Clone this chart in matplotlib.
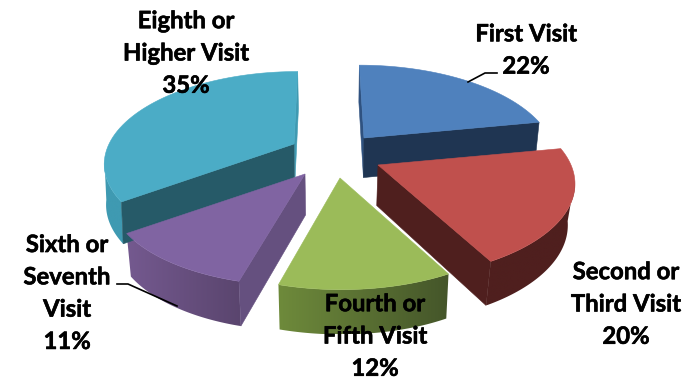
import numpy as np
import matplotlib
matplotlib.use("Agg")
import matplotlib.pyplot as plt
import matplotlib.patheffects as pe
from matplotlib.patches import Polygon
from matplotlib.colors import LinearSegmentedColormap

labels = ["First Visit\n22%", "Second or\nThird Visit\n20%", "Fourth or\nFifth Visit\n12%",
          "Sixth or\nSeventh\nVisit\n11%", "Eighth or\nHigher Visit\n35%"]
shares = [22, 20, 12, 11, 35]

top_colors = ["#4F81BD", "#C0504D", "#9BBB59", "#8064A2", "#4BACC6"]
edge_colors = ["#1F3552", "#4F1F1E", None, "#65507F", "#265A68"]
rim_left = [None, "#4F1F1E", "#6E8A3B", "#74598F", "#3F9AB2"]
rim_right = [None, "#4F1F1E", "#45562A", "#5A456E", "#3F9AB2"]

# tip of every exploded slice in pixels, plus its own shape tweaks
tips = [(364, 138), (378, 165), (340, 178), (305, 174), (294, 144)]
radii = [186, 193, 190, 190, 185]
mid_x = [336, 378, 336, 336, 316]
turn = [0, 0, 1, 0, 0]
rim_lean = [0.02, 0.03, 0.02, 0.02, 0.008]
label_pos = [(526, 50), (626, 304), (375, 336), (67, 293), (186, 53)]

TILT = 0.47
PERSP = 0.2
DEPTH = 40
MID_X = 336


def top_point(i, theta):
    # theta runs clockwise from twelve o'clock, in degrees
    t = np.radians(theta + turn[i])
    y = -np.cos(t)
    s = 1 / (1 - PERSP * y)
    tip = tips[i]
    return (tip[0] + radii[i] * np.sin(t) * s + (tip[0] - mid_x[i]) * (s - 1),
            tip[1] + radii[i] * TILT * y * s)


def drop(pt, lean=0.02):
    # same point on the underside of the slice
    y = np.clip((pt[1] - 150) / 130, -1, 1)
    return (pt[0] + (MID_X - pt[0]) * lean, pt[1] + DEPTH * (1 + 0.12 * y))


def side_wall(ax, a, b, color, lean=0.02):
    ax.add_patch(Polygon([a, b, drop(b, lean), drop(a, lean)], closed=True, fc=color, ec=color, lw=0.4))


def rim(ax, i, start, end):
    # outer wall of the slice, shaded from left to right
    upper = [top_point(i, a) for a in np.linspace(start, end, 60)]
    lower = [drop(p, rim_lean[i]) for p in upper]
    pts = np.array(upper + lower[::-1])
    shape = Polygon(pts, closed=True, fc="none", ec="none")
    ax.add_patch(shape)
    cmap = LinearSegmentedColormap.from_list("rim", [rim_left[i], rim_right[i]])
    extent = [pts[:, 0].min(), pts[:, 0].max(), pts[:, 1].max(), pts[:, 1].min()]
    im = ax.imshow(np.linspace(0, 1, 64).reshape(1, -1), cmap=cmap, extent=extent,
                   aspect="auto", interpolation="bilinear")
    im.set_clip_path(shape)


fig = plt.figure(figsize=(6.96, 3.79), dpi=100)
ax = fig.add_axes([0, 0, 1, 1])
ax.axis("off")

bounds = np.concatenate([[0], np.cumsum(shares)]) * 3.6
slices = [(i, bounds[i], bounds[i + 1]) for i in range(5)]

# back to front; rims stop at the silhouette so the wall does not fold over itself
for i, start, end in [slices[j] for j in (4, 0, 3, 1, 2)]:
    tip = tips[i]
    if i == 0:
        side_wall(ax, top_point(i, start), tip, "#2F5280")
        side_wall(ax, tip, top_point(i, end), edge_colors[i])
    elif i == 1:
        side_wall(ax, tip, top_point(i, end), edge_colors[i], rim_lean[i])
        rim(ax, i, start + 20, end)
    elif i == 2:
        rim(ax, i, start, end)
    elif i == 3:
        side_wall(ax, tip, top_point(i, start), edge_colors[i])
        rim(ax, i, start, end)
    else:
        side_wall(ax, top_point(i, end), tip, "#3F9AB2")
        rim(ax, i, start, start + 26)
        side_wall(ax, tip, top_point(i, start), edge_colors[i], rim_lean[i])

    outline = [tip] + [top_point(i, a) for a in np.linspace(start, end, 60)]
    ax.add_patch(Polygon(outline, closed=True, fc=top_colors[i], ec=top_colors[i], lw=0.4))

# leader lines
ax.plot([468, 485, 497], [82, 73, 73], color="black", lw=1.2)
ax.plot([117, 128, 177], [284, 284, 306], color="black", lw=1.2)

for text, (x, y) in zip(labels, label_pos):
    ax.text(x, y, text, ha="center", va="center", family="Lato", fontweight="bold",
            fontsize=17.2, linespacing=1.49, color="black",
            path_effects=[pe.withStroke(linewidth=0.4, foreground="black")])

ax.set_xlim(0, 696)
ax.set_ylim(379, 0)

fig.savefig("out.png", dpi=100)
